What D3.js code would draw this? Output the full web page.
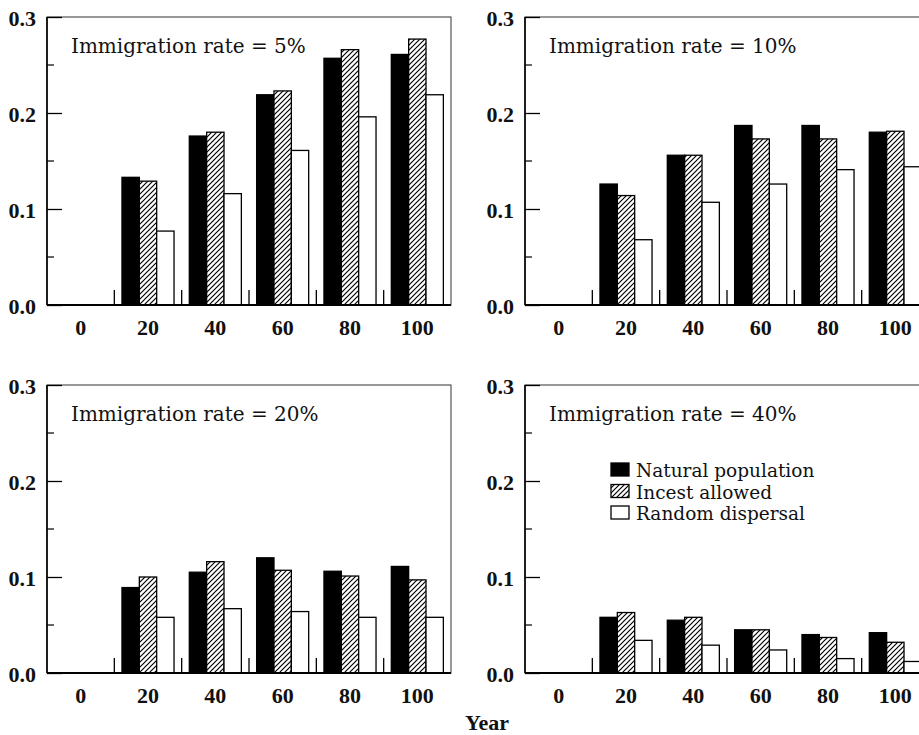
<!DOCTYPE html>
<html>
<head>
<meta charset="utf-8">
<script src="https://cdn.jsdelivr.net/npm/d3@7"></script>
<style>
  html, body { margin: 0; padding: 0; background: #fff; }
  svg { display: block; }
  .tick-label { font-family: "Liberation Serif", serif; font-weight: bold; font-size: 22px; fill: #111; }
  .panel-title { font-family: "DejaVu Serif", serif; font-size: 20px; fill: #111; }
  .legend-text { font-family: "DejaVu Serif", serif; font-size: 18.5px; fill: #111; }
</style>
</head>
<body>
<div id="chart"></div>
<script>
// x categories (year) and y ticks
const years = [0, 20, 40, 60, 80, 100];
const yTicks = [0, 0.1, 0.2, 0.3];
const yMinorTicks = [0.05, 0.15, 0.25];
const seriesNames = ['Natural population', 'Incest allowed', 'Random dispersal'];
const panelTitles = ['Immigration rate = 5%', 'Immigration rate = 10%', 'Immigration rate = 20%', 'Immigration rate = 40%'];

// values (year 0 has no bars)
const natural5  = [null, 0.133, 0.176, 0.219, 0.257, 0.261];
const incest5   = [null, 0.129, 0.180, 0.223, 0.266, 0.277];
const random5   = [null, 0.077, 0.116, 0.161, 0.196, 0.219];

const natural10 = [null, 0.126, 0.156, 0.187, 0.187, 0.180];
const incest10  = [null, 0.114, 0.156, 0.173, 0.173, 0.181];
const random10  = [null, 0.068, 0.107, 0.126, 0.141, 0.144];

const natural20 = [null, 0.089, 0.105, 0.120, 0.106, 0.111];
const incest20  = [null, 0.100, 0.116, 0.107, 0.101, 0.097];
const random20  = [null, 0.058, 0.067, 0.064, 0.058, 0.058];

const natural40 = [null, 0.058, 0.055, 0.045, 0.040, 0.042];
const incest40  = [null, 0.063, 0.058, 0.045, 0.037, 0.032];
const random40  = [null, 0.034, 0.029, 0.024, 0.015, 0.012];

const panelSeries = [
  [natural5, incest5, random5],
  [natural10, incest10, random10],
  [natural20, incest20, random20],
  [natural40, incest40, random40]
];

const W = 919, H = 735;
const panelW = 404, panelH = 288;
const origins = [[47, 17], [525, 17], [47, 385], [525, 385]];

const svg = d3.select('#chart').append('svg')
  .attr('width', W).attr('height', H);

// hatch pattern for "Incest allowed"
const defs = svg.append('defs');
defs.append('pattern')
  .attr('id', 'hatch')
  .attr('patternUnits', 'userSpaceOnUse')
  .attr('width', 5).attr('height', 5)
  .call(p => {
    p.append('rect').attr('width', 5).attr('height', 5).attr('fill', '#fff');
    p.append('path')
      .attr('d', 'M-1,1 l2,-2 M0,5 l5,-5 M4,6 l2,-2')
      .attr('stroke', '#000').attr('stroke-width', 1.2);
  });

const fills = ['#000', 'url(#hatch)', '#fff'];

const x = d3.scaleBand().domain(years).range([0, panelW]).paddingInner(0).paddingOuter(0);
const sub = d3.scaleBand().domain(d3.range(seriesNames.length)).range([0, x.bandwidth()]).paddingOuter(0.44);
const y = d3.scaleLinear().domain([0, 0.3]).range([panelH, 0]);

panelSeries.forEach((series, pi) => {
  const [ox, oy] = origins[pi];
  const g = svg.append('g').attr('transform', `translate(${ox},${oy})`);

  // frame
  g.append('rect')
    .attr('width', panelW).attr('height', panelH)
    .attr('fill', 'none').attr('stroke', '#333').attr('stroke-width', 1);

  // bars
  series.forEach((vals, si) => {
    g.append('g').selectAll('rect')
      .data(years.map((yr, i) => ({ yr, v: vals[i] })).filter(d => d.v != null))
      .join('rect')
      .attr('x', d => x(d.yr) + sub(si))
      .attr('y', d => y(d.v))
      .attr('width', sub.bandwidth())
      .attr('height', d => y(0) - y(d.v))
      .attr('fill', fills[si])
      .attr('stroke', '#000')
      .attr('stroke-width', 1.3);
  });

  // y axis: major ticks inward
  const yAxis = g.append('g')
    .call(d3.axisLeft(y).tickValues(yTicks).tickFormat(d3.format('.1f')).tickSize(-15).tickPadding(11));
  yAxis.select('.domain').remove();
  yAxis.selectAll('line').attr('stroke', '#000').attr('stroke-width', 1.3);
  yAxis.selectAll('text').attr('class', 'tick-label').attr('dy', null).attr('y', 8);

  // minor ticks
  g.append('g').selectAll('line')
    .data(yMinorTicks)
    .join('line')
    .attr('x1', 0).attr('x2', 7)
    .attr('y1', d => y(d)).attr('y2', d => y(d))
    .attr('stroke', '#000').attr('stroke-width', 1.2);

  // x axis labels at band centres
  const xAxis = g.append('g')
    .attr('transform', `translate(0,${panelH})`)
    .call(d3.axisBottom(x).tickSize(0).tickPadding(9));
  xAxis.select('.domain').remove();
  xAxis.selectAll('text').attr('class', 'tick-label').attr('dy', null).attr('y', 30);

  // x ticks at band boundaries, pointing up
  g.append('g').selectAll('line')
    .data(years.slice(1))
    .join('line')
    .attr('x1', d => x(d)).attr('x2', d => x(d))
    .attr('y1', panelH).attr('y2', panelH - 15)
    .attr('stroke', '#000').attr('stroke-width', 1.3);

  // heavier left and bottom axis lines
  g.append('line').attr('x1', 0).attr('x2', 0).attr('y1', 0).attr('y2', panelH)
    .attr('stroke', '#000').attr('stroke-width', 1.6);
  g.append('line').attr('x1', 0).attr('x2', panelW).attr('y1', panelH).attr('y2', panelH)
    .attr('stroke', '#000').attr('stroke-width', 2);

  g.append('text')
    .attr('class', 'panel-title')
    .attr('x', 24).attr('y', 36)
    .text(panelTitles[pi]);

  // legend in the last panel
  if (pi === 3) {
    const lg = g.append('g').attr('transform', 'translate(86,78)');
    seriesNames.forEach((name, si) => {
      lg.append('rect')
        .attr('x', 0).attr('y', si * 21.5)
        .attr('width', 18).attr('height', 13)
        .attr('fill', fills[si]).attr('stroke', '#000').attr('stroke-width', 1.3);
      lg.append('text')
        .attr('class', 'legend-text')
        .attr('x', 25).attr('y', si * 21.5 + 14)
        .text(name);
    });
  }
});

svg.append('text')
  .attr('class', 'tick-label')
  .attr('x', 487).attr('y', 730)
  .attr('text-anchor', 'middle')
  .text('Year');
</script>
</body>
</html>
